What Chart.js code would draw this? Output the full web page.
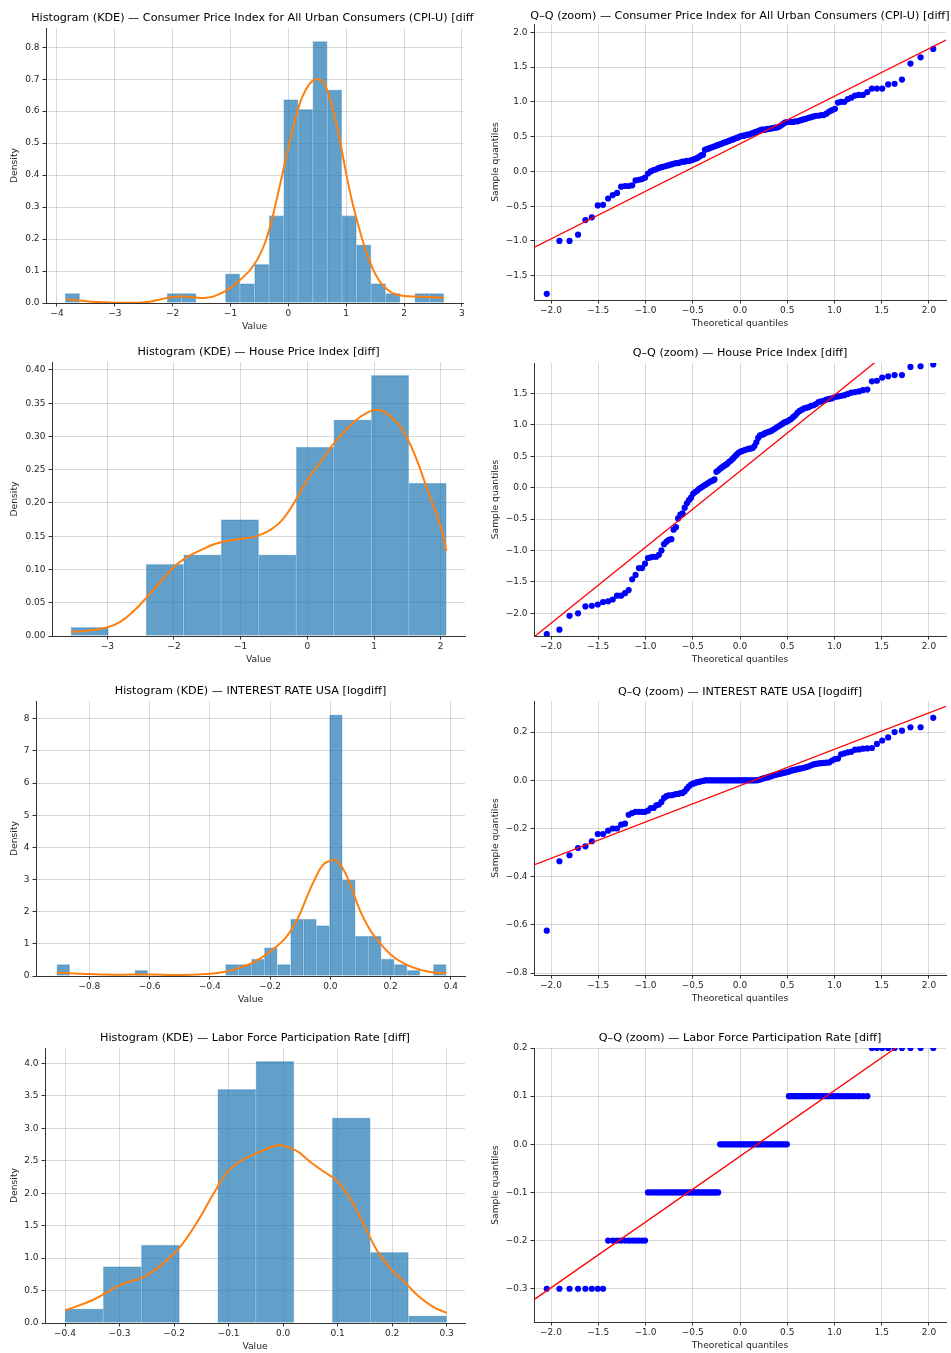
<!DOCTYPE html>
<html>
<head>
<meta charset="utf-8">
<title>Histogram (KDE) and Q–Q diagnostics</title>
<script src="https://cdn.jsdelivr.net/npm/chart.js@4.4.1/dist/chart.umd.min.js"></script>
<style>
  html, body { margin: 0; padding: 0; background: #fff; overflow: hidden; }
  body { width: 951px; height: 1353px; position: relative; }
  .panel { position: absolute; }
</style>
</head>
<body>
<script>
// ---- histogram data (bin edges, density per bin, KDE curve) ----
const cpiBinEdges = [-3.860, -3.608, -3.356, -3.104, -2.853, -2.601, -2.349, -2.097, -1.845, -1.593, -1.341,
  -1.089, -0.837, -0.585, -0.333, -0.081, 0.170, 0.422, 0.674, 0.926, 1.178, 1.430, 1.682, 1.934, 2.186, 2.438, 2.690];
const cpiDensity = [0.030, 0, 0, 0, 0, 0, 0, 0.030, 0.030, 0, 0, 0.091, 0.061, 0.121, 0.273, 0.636, 0.606,
  0.818, 0.667, 0.273, 0.182, 0.061, 0.030, 0, 0.030, 0.030];
const cpiKdeX = [-3.84, -3.6, -3.4, -3.0, -2.6, -2.4, -2.2, -2.0, -1.8, -1.6, -1.45, -1.3, -1.1, -0.9, -0.7, -0.6,
  -0.5, -0.4, -0.3, -0.2, -0.1, 0.0, 0.1, 0.2, 0.3, 0.4, 0.5, 0.6, 0.7, 0.8, 0.9, 1.0, 1.1, 1.2, 1.3, 1.4, 1.5,
  1.6, 1.7, 1.8, 1.9, 2.0, 2.2, 2.4, 2.6, 2.69];
const cpiKdeY = [0.012, 0.008, 0.004, 0.001, 0.001, 0.004, 0.012, 0.019, 0.020, 0.017, 0.016, 0.020, 0.036, 0.062,
  0.095, 0.118, 0.148, 0.19, 0.25, 0.325, 0.405, 0.485, 0.56, 0.625, 0.666, 0.692, 0.70, 0.692, 0.65, 0.583, 0.50,
  0.405, 0.32, 0.25, 0.186, 0.134, 0.092, 0.063, 0.044, 0.031, 0.025, 0.022, 0.020, 0.019, 0.017, 0.016];

const hpiBinEdges = [-3.545, -2.982, -2.419, -1.856, -1.293, -0.730, -0.167, 0.396, 0.959, 1.522, 2.085];
const hpiDensity = [0.013, 0, 0.108, 0.122, 0.175, 0.122, 0.284, 0.325, 0.392, 0.230];
const hpiKdeX = [-3.545, -3.3, -3.0, -2.8, -2.6, -2.4, -2.2, -2.0, -1.8, -1.6, -1.4, -1.2, -1.0, -0.8, -0.6, -0.4,
  -0.2, 0.0, 0.2, 0.4, 0.6, 0.8, 1.0, 1.1, 1.2, 1.4, 1.6, 1.8, 2.0, 2.085];
const hpiKdeY = [0.0065, 0.008, 0.013, 0.0215, 0.038, 0.059, 0.082, 0.104, 0.119, 0.129, 0.138, 0.143, 0.146, 0.149,
  0.157, 0.172, 0.20, 0.235, 0.262, 0.29, 0.312, 0.33, 0.34, 0.339, 0.334, 0.314, 0.275, 0.22, 0.164, 0.128];

const irBinEdges = [-0.908, -0.865, -0.822, -0.779, -0.736, -0.692, -0.649, -0.606, -0.563, -0.520, -0.477,
  -0.434, -0.391, -0.348, -0.305, -0.262, -0.219, -0.176, -0.132, -0.089, -0.046, -0.003, 0.040, 0.083, 0.126,
  0.169, 0.212, 0.255, 0.298, 0.342, 0.385];
const irDensity = [0.36, 0, 0, 0, 0, 0, 0.18, 0, 0, 0, 0, 0, 0, 0.36, 0.36, 0.53, 0.88, 0.36, 1.77, 1.77, 1.57,
  8.12, 2.99, 1.24, 1.24, 0.53, 0.36, 0.18, 0, 0.36];
const irKdeX = [-0.908, -0.85, -0.8, -0.7, -0.6, -0.5, -0.4, -0.35, -0.3, -0.25, -0.2, -0.15, -0.12, -0.1, -0.075,
  -0.05, -0.025, 0.0, 0.01, 0.025, 0.05, 0.075, 0.1, 0.125, 0.15, 0.2, 0.25, 0.3, 0.35, 0.385];
const irKdeY = [0.10, 0.08, 0.06, 0.04, 0.05, 0.03, 0.07, 0.13, 0.26, 0.45, 0.76, 1.17, 1.59, 1.95, 2.52, 3.04,
  3.45, 3.59, 3.61, 3.56, 3.20, 2.62, 2.00, 1.54, 1.19, 0.67, 0.36, 0.19, 0.10, 0.09];

const lfprBinEdges = [-0.40, -0.33, -0.26, -0.19, -0.12, -0.05, 0.02, 0.09, 0.16, 0.23, 0.30];
const lfprDensity = [0.22, 0.87, 1.20, 0, 3.60, 4.03, 0, 3.16, 1.09, 0.11];
const lfprKdeX = [-0.4, -0.35, -0.3, -0.25, -0.2, -0.175, -0.15, -0.125, -0.1, -0.075, -0.05, -0.025, -0.01, 0.0,
  0.025, 0.05, 0.075, 0.1, 0.125, 0.15, 0.175, 0.2, 0.225, 0.25, 0.275, 0.3];
const lfprKdeY = [0.195, 0.35, 0.58, 0.735, 1.07, 1.33, 1.66, 2.03, 2.35, 2.51, 2.61, 2.70, 2.74, 2.73, 2.65, 2.48,
  2.33, 2.18, 1.89, 1.48, 1.08, 0.81, 0.61, 0.40, 0.25, 0.155];

// ---- Q-Q data: theoretical quantiles shared by all four series (visible points only) ----
const theoreticalQuantiles = [
  -2.045, -1.911, -1.804, -1.714, -1.636, -1.568, -1.505, -1.449, -1.396, -1.347,
  -1.301, -1.258, -1.217, -1.178, -1.141, -1.105, -1.070, -1.037, -1.005, -0.974,
  -0.944, -0.914, -0.886, -0.858, -0.831, -0.804, -0.778, -0.753, -0.727, -0.703,
  -0.678, -0.655, -0.631, -0.608, -0.585, -0.562, -0.540, -0.518, -0.496, -0.475,
  -0.454, -0.433, -0.412, -0.391, -0.371, -0.350, -0.330, -0.310, -0.290, -0.270,
  -0.250, -0.231, -0.211, -0.192, -0.173, -0.153, -0.134, -0.115, -0.096, -0.076,
  -0.057, -0.038, -0.019, 0.000, 0.019, 0.038, 0.057, 0.076, 0.096, 0.115,
  0.134, 0.153, 0.173, 0.192, 0.211, 0.231, 0.250, 0.270, 0.290, 0.310,
  0.330, 0.350, 0.371, 0.391, 0.412, 0.433, 0.454, 0.475, 0.496, 0.518,
  0.540, 0.562, 0.585, 0.608, 0.631, 0.655, 0.678, 0.703, 0.727, 0.753,
  0.778, 0.804, 0.831, 0.858, 0.886, 0.914, 0.944, 0.974, 1.005, 1.037,
  1.070, 1.105, 1.141, 1.178, 1.217, 1.258, 1.301, 1.347, 1.396, 1.449,
  1.505, 1.568, 1.636, 1.714, 1.804, 1.911, 2.045];

const cpiSampleQ = [
  -1.76, -1.00, -1.00, -0.91, -0.70, -0.66, -0.49, -0.48, -0.39, -0.34,
  -0.31, -0.22, -0.21, -0.21, -0.20, -0.13, -0.12, -0.11, -0.09, -0.03,
  0.00, 0.02, 0.03, 0.05, 0.06, 0.07, 0.08, 0.09, 0.10, 0.11,
  0.12, 0.12, 0.13, 0.14, 0.14, 0.15, 0.15, 0.16, 0.17, 0.18,
  0.19, 0.21, 0.23, 0.24, 0.31, 0.32, 0.33, 0.34, 0.35, 0.36,
  0.37, 0.38, 0.39, 0.40, 0.41, 0.42, 0.43, 0.44, 0.45, 0.46,
  0.47, 0.48, 0.49, 0.50, 0.51, 0.51, 0.52, 0.53, 0.53, 0.54,
  0.55, 0.56, 0.57, 0.58, 0.59, 0.60, 0.60, 0.60, 0.61, 0.61,
  0.62, 0.62, 0.63, 0.63, 0.64, 0.66, 0.68, 0.70, 0.71, 0.71,
  0.71, 0.71, 0.72, 0.72, 0.73, 0.74, 0.75, 0.76, 0.77, 0.78,
  0.79, 0.80, 0.80, 0.81, 0.81, 0.83, 0.86, 0.88, 0.90, 0.99,
  1.00, 1.00, 1.04, 1.06, 1.09, 1.10, 1.10, 1.14, 1.19, 1.19,
  1.19, 1.25, 1.26, 1.32, 1.55, 1.64, 1.76];
const hpiSampleQ = [
  -2.33, -2.26, -2.04, -2.00, -1.89, -1.88, -1.86, -1.82, -1.81, -1.78,
  -1.72, -1.72, -1.68, -1.63, -1.46, -1.39, -1.28, -1.28, -1.21, -1.12,
  -1.11, -1.10, -1.10, -1.07, -1.00, -0.90, -0.86, -0.83, -0.82, -0.67,
  -0.63, -0.49, -0.43, -0.41, -0.32, -0.25, -0.20, -0.16, -0.10, -0.07,
  -0.05, -0.02, 0.00, 0.02, 0.04, 0.06, 0.08, 0.10, 0.11, 0.13,
  0.25, 0.27, 0.30, 0.32, 0.34, 0.36, 0.38, 0.41, 0.43, 0.46,
  0.49, 0.52, 0.55, 0.57, 0.58, 0.59, 0.60, 0.61, 0.62, 0.62,
  0.63, 0.66, 0.72, 0.79, 0.83, 0.84, 0.85, 0.87, 0.88, 0.89,
  0.90, 0.92, 0.94, 0.96, 0.98, 1.00, 1.02, 1.04, 1.05, 1.07,
  1.09, 1.12, 1.15, 1.19, 1.22, 1.24, 1.26, 1.27, 1.28, 1.30,
  1.31, 1.33, 1.36, 1.37, 1.38, 1.40, 1.41, 1.42, 1.44, 1.45,
  1.46, 1.47, 1.49, 1.51, 1.52, 1.53, 1.55, 1.56, 1.69, 1.70,
  1.75, 1.77, 1.79, 1.79, 1.92, 1.93, 1.96];
const irSampleQ = [
  -0.624, -0.336, -0.311, -0.281, -0.274, -0.253, -0.223, -0.223, -0.209, -0.200,
  -0.200, -0.184, -0.180, -0.143, -0.136, -0.131, -0.131, -0.131, -0.131, -0.126,
  -0.115, -0.115, -0.104, -0.101, -0.090, -0.073, -0.066, -0.062, -0.062, -0.060,
  -0.057, -0.057, -0.053, -0.053, -0.046, -0.035, -0.025, -0.018, -0.014, -0.011,
  -0.008, -0.007, -0.004, -0.003, 0, 0, 0, 0, 0, 0,
  0, 0, 0, 0, 0, 0, 0, 0, 0, 0,
  0, 0, 0, 0, 0, 0, 0, 0, 0, 0,
  0, 0, 0, 0.001, 0.003, 0.006, 0.008, 0.010, 0.012, 0.015,
  0.017, 0.020, 0.022, 0.024, 0.026, 0.028, 0.030, 0.032, 0.034, 0.036,
  0.040, 0.042, 0.044, 0.046, 0.048, 0.050, 0.052, 0.055, 0.058, 0.062,
  0.066, 0.068, 0.070, 0.071, 0.072, 0.073, 0.074, 0.082, 0.088, 0.090,
  0.108, 0.112, 0.116, 0.118, 0.127, 0.128, 0.131, 0.132, 0.134, 0.151,
  0.165, 0.178, 0.200, 0.206, 0.220, 0.220, 0.259];
const lfprSampleQ = [
  -0.3, -0.3, -0.3, -0.3, -0.3, -0.3, -0.3, -0.3, -0.2, -0.2,
  -0.2, -0.2, -0.2, -0.2, -0.2, -0.2, -0.2, -0.2, -0.2, -0.1,
  -0.1, -0.1, -0.1, -0.1, -0.1, -0.1, -0.1, -0.1, -0.1, -0.1,
  -0.1, -0.1, -0.1, -0.1, -0.1, -0.1, -0.1, -0.1, -0.1, -0.1,
  -0.1, -0.1, -0.1, -0.1, -0.1, -0.1, -0.1, -0.1, -0.1, -0.1,
  -0.1, -0.1, 0, 0, 0, 0, 0, 0, 0, 0,
  0, 0, 0, 0, 0, 0, 0, 0, 0, 0,
  0, 0, 0, 0, 0, 0, 0, 0, 0, 0,
  0, 0, 0, 0, 0, 0, 0, 0, 0, 0.1,
  0.1, 0.1, 0.1, 0.1, 0.1, 0.1, 0.1, 0.1, 0.1, 0.1,
  0.1, 0.1, 0.1, 0.1, 0.1, 0.1, 0.1, 0.1, 0.1, 0.1,
  0.1, 0.1, 0.1, 0.1, 0.1, 0.1, 0.1, 0.1, 0.2, 0.2,
  0.2, 0.2, 0.2, 0.2, 0.2, 0.2, 0.2];

// reference lines, two end points each
const cpiFitX = [-2.18, 2.18], cpiFitY = [-1.093, 1.889];
const hpiFitX = [-2.18, 2.18], hpiFitY = [-2.376, 2.900];
const irFitX = [-2.18, 2.18], irFitY = [-0.351, 0.307];
const lfprFitX = [-2.18, 2.18], lfprFitY = [-0.3225, 0.2727];

// ---- styling ----
Chart.defaults.font.family = "'DejaVu Sans', sans-serif";
Chart.defaults.color = '#262626';

const GRID = 'rgba(0,0,0,0.15)';
const SPINE = '#333';
const TEXT = '#262626';

function minusFormat(decimals) {
  return (value) => {
    let s = Number(value).toFixed(decimals);
    if (Number(s) === 0) s = (0).toFixed(decimals);
    return s.replace('-', '\u2212');
  };
}

const panelTitle = {
  id: 'panelTitle',
  afterDraw(chart, args, opts) {
    const { ctx, chartArea } = chart;
    ctx.save();
    ctx.font = "11.2px 'DejaVu Sans', sans-serif";
    ctx.fillStyle = '#000';
    ctx.textAlign = 'center';
    ctx.textBaseline = 'middle';
    ctx.fillText(opts.text, (chartArea.left + chartArea.right) / 2, chartArea.top - opts.gap);
    ctx.restore();
  }
};

function linearAxis(cfg) {
  const horizontal = cfg.horizontal;
  return {
    type: 'linear',
    min: cfg.min,
    max: cfg.max,
    offset: false,
    grid: { color: GRID, lineWidth: 1, tickColor: SPINE, tickLength: 3.5, tickWidth: 1, offset: false },
    border: { display: true, color: SPINE, width: 1 },
    ticks: {
      stepSize: cfg.step,
      includeBounds: false,
      autoSkip: false,
      maxRotation: 0,
      padding: horizontal ? 1.5 : 3,
      color: TEXT,
      font: { size: 9 },
      callback: minusFormat(cfg.decimals)
    },
    title: {
      display: true,
      text: cfg.title,
      color: TEXT,
      font: { size: 9.2 },
      padding: horizontal ? { top: 0, bottom: 4.9 } : { top: cfg.titlePad, bottom: 0 }
    },
    afterFit(scale) {
      if (horizontal) scale.height = cfg.size;
      else scale.width = cfg.size;
      scale.paddingLeft = scale.paddingRight = scale.paddingTop = scale.paddingBottom = 0;
    }
  };
}

function makeCanvas(area, col) {
  const cx = col === 0 ? 0 : 475;
  const cw = col === 0 ? 475 : 476;
  const cy = area.top - 24;
  const ch = area.bottom + 34 - cy;
  const div = document.createElement('div');
  div.className = 'panel';
  div.style.left = cx + 'px';
  div.style.top = cy + 'px';
  div.style.width = cw + 'px';
  div.style.height = ch + 'px';
  const canvas = document.createElement('canvas');
  canvas.width = cw;
  canvas.height = ch;
  canvas.style.width = cw + 'px';
  canvas.style.height = ch + 'px';
  div.appendChild(canvas);
  document.body.appendChild(div);
  return { canvas, cx, cw };
}

function baseOptions(p, box) {
  return {
    responsive: false,
    animation: false,
    events: [],
    layout: {
      autoPadding: false,
      padding: { top: 24, left: 0, right: box.cw - (p.area.right - box.cx), bottom: 0 }
    },
    plugins: {
      legend: { display: false },
      tooltip: { enabled: false },
      panelTitle: { text: p.title, gap: p.gap }
    }
  };
}

function histogramChart(p) {
  const box = makeCanvas(p.area, 0);
  const centers = p.density.map((_, k) => (p.edges[k] + p.edges[k + 1]) / 2);
  const options = baseOptions(p, box);
  options.scales = {
    x: linearAxis({ horizontal: true, min: p.x[0], max: p.x[1], step: p.x[2], decimals: p.x[3], title: 'Value', size: 34 }),
    y: linearAxis({ min: 0, max: p.y[1], step: p.y[2], decimals: p.y[3], title: 'Density', size: p.area.left - box.cx, titlePad: 9.5 })
  };
  new Chart(box.canvas, {
    type: 'bar',
    data: {
      datasets: [
        {
          type: 'line',
          data: p.kdeX.map((x, k) => ({ x, y: p.kdeY[k] })),
          borderColor: '#ff7f0e',
          borderWidth: 2,
          pointRadius: 0,
          tension: 0.4,
          fill: false
        },
        {
          type: 'bar',
          data: centers.map((x, k) => ({ x, y: p.density[k] })),
          backgroundColor: 'rgba(31,119,180,0.7)',
          borderColor: 'rgba(31,119,180,0.32)',
          borderWidth: 0.8,
          borderSkipped: 'start',
          barPercentage: 1,
          categoryPercentage: 1
        }
      ]
    },
    options,
    plugins: [panelTitle]
  });
}

function qqChart(p) {
  const box = makeCanvas(p.area, 1);
  const options = baseOptions(p, box);
  options.scales = {
    x: linearAxis({ horizontal: true, min: -2.18, max: 2.18, step: 0.5, decimals: 1, title: 'Theoretical quantiles', size: 34 }),
    y: linearAxis({ min: p.y[0], max: p.y[1], step: p.y[2], decimals: p.y[3], title: 'Sample quantiles', size: p.area.left - box.cx, titlePad: 15.2 })
  };
  if (p.sample.length !== theoreticalQuantiles.length) console.error('length mismatch', p.title);
  new Chart(box.canvas, {
    type: 'scatter',
    data: {
      datasets: [
        {
          type: 'line',
          data: p.fitX.map((x, k) => ({ x, y: p.fitY[k] })),
          borderColor: '#ff0000',
          borderWidth: 1.3,
          pointRadius: 0,
          fill: false,
          clip: 0
        },
        {
          type: 'scatter',
          data: theoreticalQuantiles.map((x, k) => ({ x, y: p.sample[k] })),
          pointRadius: 3.1,
          pointBackgroundColor: '#0000ff',
          pointBorderWidth: 0,
          borderWidth: 0,
          clip: 0
        }
      ]
    },
    options,
    plugins: [panelTitle]
  });
}

// ---- panels: x = [min, max, step, decimals], y = [min, max, step, decimals] ----
histogramChart({
  title: 'Histogram (KDE) \u2014 Consumer Price Index for All Urban Consumers (CPI-U) [diff]',
  area: { left: 46, right: 463, top: 28, bottom: 303 }, gap: 9.7,
  x: [-4.19, 3.02, 1, 0], y: [0, 0.86, 0.1, 1],
  edges: cpiBinEdges, density: cpiDensity, kdeX: cpiKdeX, kdeY: cpiKdeY
});
histogramChart({
  title: 'Histogram (KDE) \u2014 House Price Index [diff]',
  area: { left: 52, right: 465, top: 362, bottom: 636 }, gap: 9.7,
  x: [-3.829, 2.364, 1, 0], y: [0, 0.412, 0.05, 2],
  edges: hpiBinEdges, density: hpiDensity, kdeX: hpiKdeX, kdeY: hpiKdeY
});
histogramChart({
  title: 'Histogram (KDE) \u2014 INTEREST RATE USA [logdiff]',
  area: { left: 36, right: 465, top: 701, bottom: 976 }, gap: 9.7,
  x: [-0.977, 0.447, 0.2, 1], y: [0, 8.55, 1, 0],
  edges: irBinEdges, density: irDensity, kdeX: irKdeX, kdeY: irKdeY
});
histogramChart({
  title: 'Histogram (KDE) \u2014 Labor Force Participation Rate [diff]',
  area: { left: 45, right: 465, top: 1048, bottom: 1323 }, gap: 10.3,
  x: [-0.4367, 0.3336, 0.1, 1], y: [0, 4.236, 0.5, 1],
  edges: lfprBinEdges, density: lfprDensity, kdeX: lfprKdeX, kdeY: lfprKdeY
});

qqChart({
  title: 'Q\u2013Q (zoom) \u2014 Consumer Price Index for All Urban Consumers (CPI-U) [diff]',
  area: { left: 534, right: 946, top: 24, bottom: 300 }, gap: 8.3,
  y: [-1.849, 2.119, 0.5, 1], sample: cpiSampleQ, fitX: cpiFitX, fitY: cpiFitY
});
qqChart({
  title: 'Q\u2013Q (zoom) \u2014 House Price Index [diff]',
  area: { left: 534, right: 946, top: 363, bottom: 636 }, gap: 9.7,
  y: [-2.361, 1.982, 0.5, 1], sample: hpiSampleQ, fitX: hpiFitX, fitY: hpiFitY
});
qqChart({
  title: 'Q\u2013Q (zoom) \u2014 INTEREST RATE USA [logdiff]',
  area: { left: 534, right: 946, top: 701, bottom: 975 }, gap: 9,
  y: [-0.808, 0.329, 0.2, 1], sample: irSampleQ, fitX: irFitX, fitY: irFitY
});
qqChart({
  title: 'Q\u2013Q (zoom) \u2014 Labor Force Participation Rate [diff]',
  area: { left: 534, right: 946, top: 1048, bottom: 1322 }, gap: 10.3,
  y: [-0.369, 0.2, 0.1, 1], sample: lfprSampleQ, fitX: lfprFitX, fitY: lfprFitY
});
</script>
</body>
</html>
